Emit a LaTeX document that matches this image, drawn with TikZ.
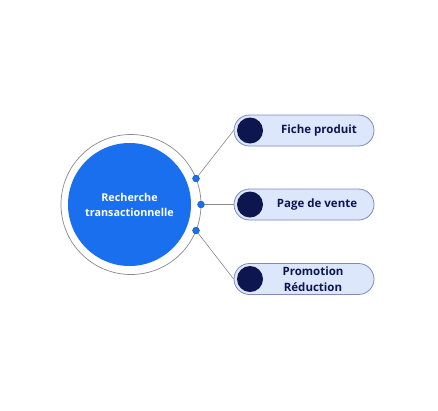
\documentclass[tikz,border=0pt]{standalone}
\usepackage{fontspec}
\setmainfont{Open Sans}
\usetikzlibrary{shapes.misc}
\definecolor{mainblue}{HTML}{1A6FEF}
\definecolor{pillfill}{HTML}{DCE7FC}
\definecolor{pilldraw}{HTML}{7D8CB8}
\definecolor{navy}{HTML}{0E1650}
\definecolor{ringgray}{HTML}{8A8A8A}
\tikzset{
  pill/.style={rounded rectangle, draw=pilldraw, fill=pillfill, line width=0.8pt,
    minimum width=140pt, minimum height=31pt, inner sep=0pt},
  bullet/.style={circle, fill=navy, minimum size=26pt, inner sep=0pt},
  pilltext/.style={font=\bfseries\fontsize{11.5}{15.5}\selectfont, text=navy, align=center},
  dot/.style={circle, fill=mainblue, draw=mainblue!70!black, line width=0.3pt, minimum size=7pt, inner sep=0pt},
  conn/.style={draw=ringgray, line width=0.6pt}
}
\begin{document}
\begin{tikzpicture}[x=1pt,y=-1pt]
\useasboundingbox (0,0) rectangle (438,410);
\node[circle, draw=ringgray, line width=0.7pt, minimum size=140pt, inner sep=0pt] (ring) at (131,204.5) {};
\node[circle, fill=mainblue, minimum size=123pt, inner sep=0pt, text=white,
  font=\bfseries\fontsize{10.8}{15}\selectfont, align=center] (core) at (129.5,204.5) {Recherche\\transactionnelle};
\node[dot] (d1) at (196,178.5) {};
\node[dot] (d2) at (201,204.5) {};
\node[dot] (d3) at (196,230.5) {};
\node[pill] (p1) at (304,130.5) {};
\node[pill] (p2) at (304,204.5) {};
\node[pill] (p3) at (304,279) {};
\node[bullet] (b1) at (250,130.5) {};
\node[bullet] (b2) at (250,204.5) {};
\node[bullet] (b3) at (250,279) {};
\node[pilltext] (t1) at (319,130.5) {Fiche produit};
\node[pilltext] (t2) at (317,204.5) {Page de vente};
\node[pilltext] (t3) at (313,279) {Promotion\\Réduction};
\draw[conn] (d1) -- (p1.west);
\draw[conn] (d2) -- (p2.west);
\draw[conn] (d3) -- (p3.west);
\end{tikzpicture}
\end{document}
